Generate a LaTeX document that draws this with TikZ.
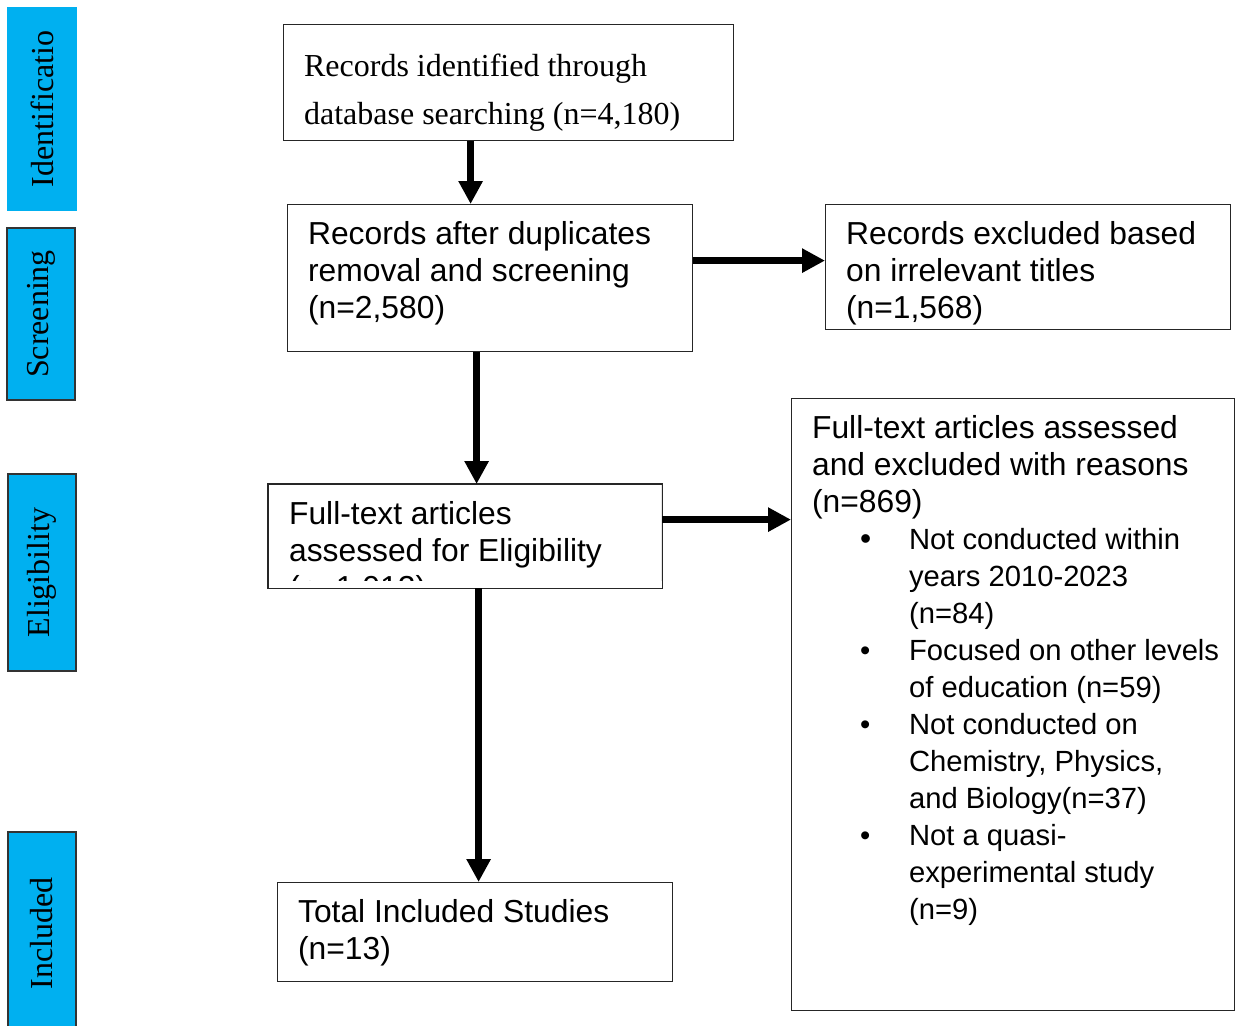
\documentclass[tikz,border=0pt]{standalone}
\usepackage{fontspec}
\setmainfont{Liberation Serif}
\setsansfont{Liberation Sans}
\usetikzlibrary{arrows.meta}

\definecolor{stagecyan}{HTML}{00B0F0}
\newcommand{\boxtext}[3]{\parbox[c][#2][t]{#1}{\leftskip=10.25pt\rule{0pt}{20pt}#3}}
\newcommand{\bitem}{\par\hangindent=48.5pt\hangafter=1\makebox[48.5pt][l]{\hspace{24pt}\textbullet}\fontsize{14.6}{18.5}\selectfont}

\begin{document}
\begin{tikzpicture}[x=0.5pt, y=-0.5pt,
      box/.style={draw=black!85, line width=0.6pt, anchor=north west, inner sep=0pt, font=\sffamily\fontsize{15.9}{18.5}\selectfont},
      stage/.style={draw=black!80, line width=0.8pt, fill=stagecyan, rotate=90, minimum height=34pt, inner sep=0pt, font=\rmfamily\fontsize{16}{19}\selectfont},
      arrow/.style={-{Triangle[length=11.5pt,width=11.5pt]}, line width=3.2pt}
    ]
    \useasboundingbox (0,0) rectangle (1235,1025);

    % stage labels on the left
    \node[stage, draw=stagecyan, minimum width=101pt] (idn) at (42,109) {Identificatio};
    \node[stage, minimum width=86pt] (scr) at (41,314) {Screening};
    \node[stage, minimum width=98.5pt] (elg) at (42,572.5) {Eligibility};
    \node[stage, minimum width=101.5pt] (inc) at (42,933.5) {Included};

    % flow boxes
    \node[box, font=\rmfamily\fontsize{16}{24}\selectfont] (srch) at (283,24) {\parbox[c][58pt][t]{225pt}{\leftskip=10.25pt\rule{0pt}{26pt}Records identified through\\database searching (n=4,180)}};
    \node[box] (dedup) at (287,204) {\boxtext{202.5pt}{73.5pt}{Records after duplicates\\removal and screening\\(n=2,580)}};
    \node[box] (exttl) at (825,204) {\boxtext{202.5pt}{62.5pt}{Records excluded based\\on irrelevant titles\\(n=1,568)}};
    \begin{scope}
      \clip (268,484) rectangle (661,580);
      \node[box] (fulltxt) at (268,484) {\boxtext{196.5pt}{51.5pt}{Full-text articles\\assessed for Eligibility\\(n=1,012)}};
    \end{scope}
    \draw[black!85, line width=0.6pt] (fulltxt.south west) rectangle (fulltxt.north east);
    \node[box] (exrsn) at (791,398) {\boxtext{221.5pt}{306pt}{Full-text articles assessed\\and excluded with reasons\\(n=869)
      \bitem Not conducted within\\years 2010-2023\\(n=84)
      \bitem Focused on other levels\\of education (n=59)
      \bitem Not conducted on\\Chemistry, Physics,\\and Biology(n=37)
      \bitem Not a quasi-\\experimental study\\(n=9)}};
    \node[box] (incl) at (277,882) {\boxtext{197.5pt}{49.5pt}{Total Included Studies\\(n=13)}};

    \draw[arrow] ([xshift=-19pt]srch.south) -- ([xshift=-19pt]srch.south |- dedup.north);
    \draw[arrow] ([yshift=8.75pt]dedup.east) -- ([yshift=8.75pt]dedup.east -| exttl.west);
    \draw[arrow] ([xshift=-6.75pt]dedup.south) -- ([xshift=-6.75pt]dedup.south |- fulltxt.north);
    \draw[arrow] ([yshift=8.25pt]fulltxt.east) -- ([yshift=8.25pt]fulltxt.east -| exrsn.west);
    \draw[arrow] ([xshift=6.75pt]fulltxt.south) -- ([xshift=6.75pt]fulltxt.south |- incl.north);

    \end{tikzpicture}
\end{document}
